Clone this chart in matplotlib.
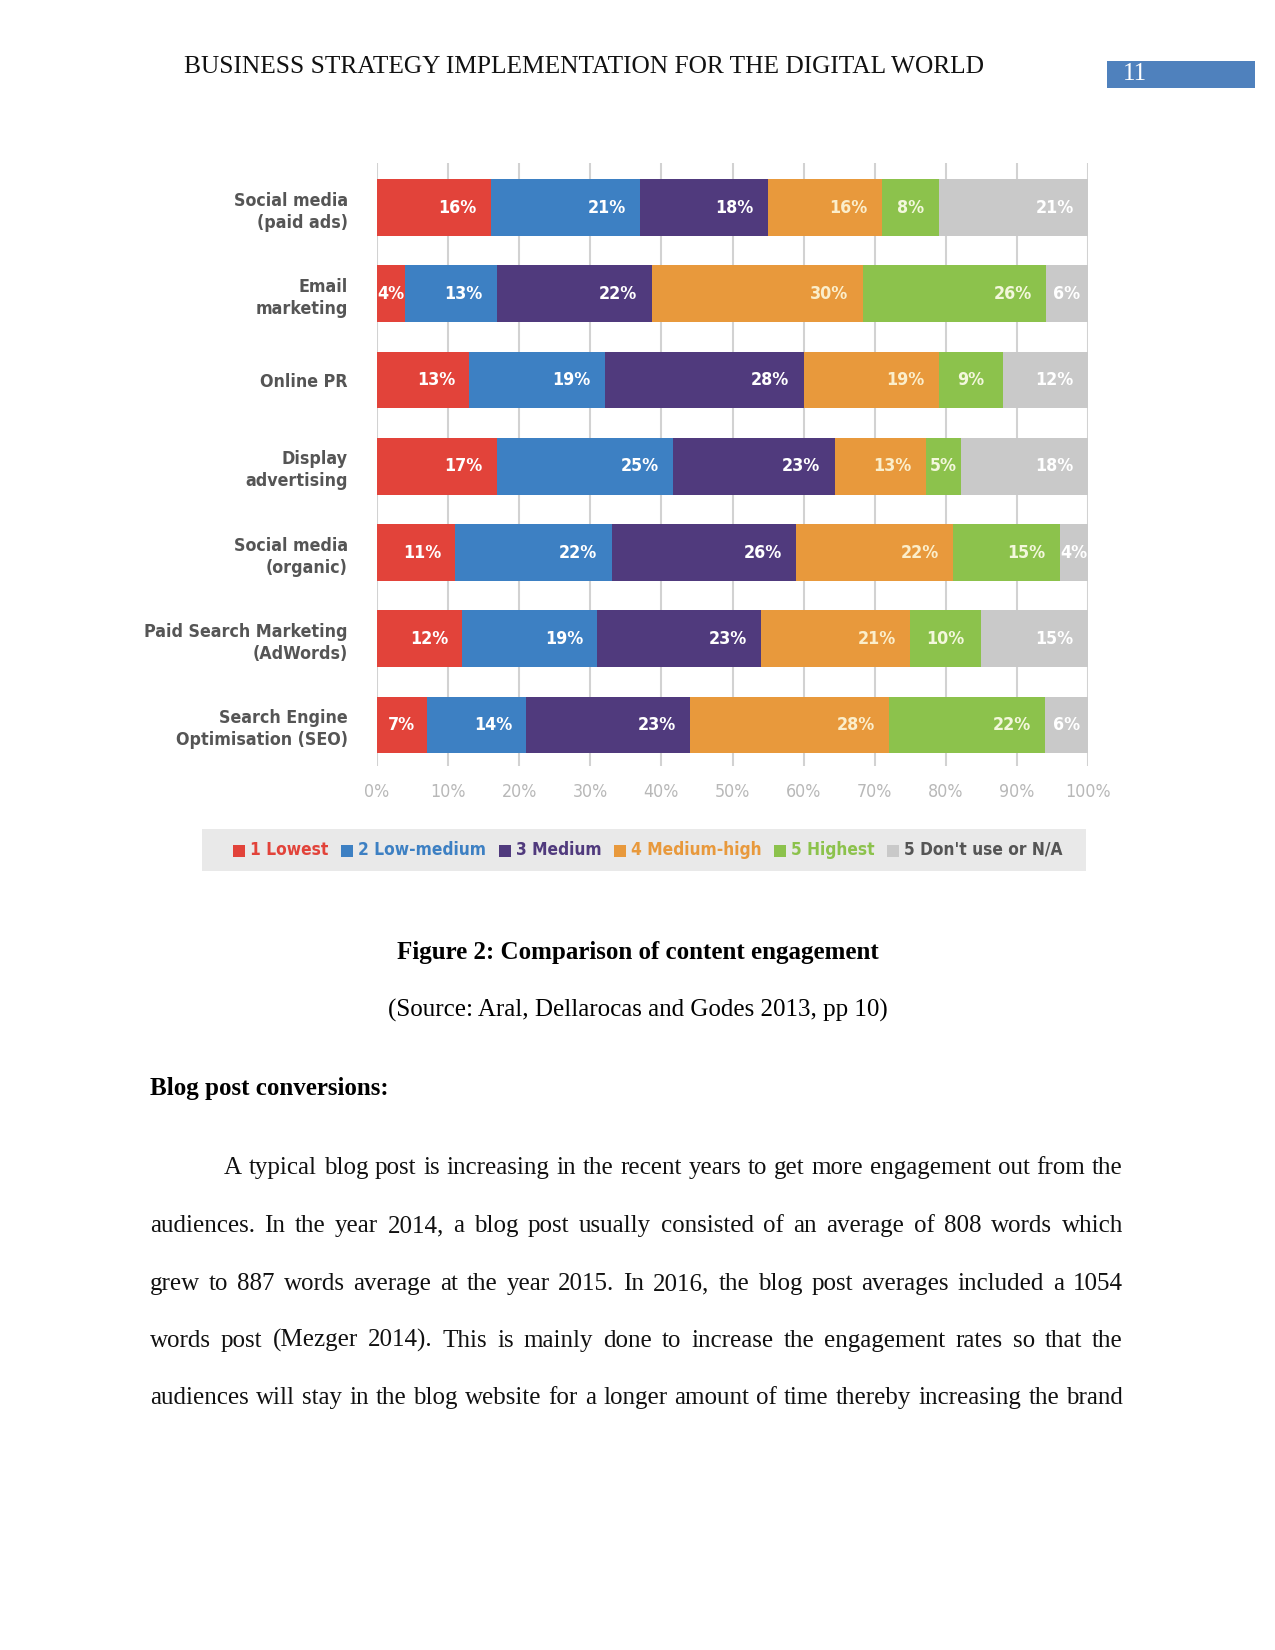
import matplotlib
matplotlib.use("Agg")
import matplotlib.pyplot as plt
import numpy as np
from matplotlib.patches import Rectangle
from matplotlib.font_manager import FontProperties, fontManager

# chart data
categories = ["Social media\n(paid ads)", "Email\nmarketing", "Online PR",
              "Display\nadvertising", "Social media\n(organic)",
              "Paid Search Marketing\n(AdWords)", "Search Engine\nOptimisation (SEO)"]
series = ["1 Lowest", "2 Low-medium", "3 Medium", "4 Medium-high",
          "5 Highest", "5 Don't use or N/A"]
lowest = [16, 4, 13, 17, 11, 12, 7]
low_medium = [21, 13, 19, 25, 22, 19, 14]
medium = [18, 22, 28, 23, 26, 23, 23]
medium_high = [16, 30, 19, 13, 22, 21, 28]
highest = [8, 26, 9, 5, 15, 10, 22]
dont_use = [21, 6, 12, 18, 4, 15, 6]
ticks = [0, 10, 20, 30, 40, 50, 60, 70, 80, 90, 100]

colors = ["#e2433a", "#3d80c3", "#503a7d", "#e8993c", "#8cc24c", "#c9c9c9"]
label_colors = ["white", "white", "white", "#fbeecb", "#f3f7dc", "white"]
legend_text_colors = ["#e2433a", "#3d80c3", "#503a7d", "#e8993c", "#8cc24c", "#555555"]

# pick a narrow sans if one is there
names = {f.name for f in fontManager.ttflist}
if "Liberation Sans Narrow" in names:
    NARROW = dict(family=["Liberation Sans Narrow", "DejaVu Sans"])
else:
    NARROW = dict(family=["DejaVu Sans"], stretch="condensed")
SERIF = ["Liberation Serif", "DejaVu Serif"]

W, H = 1275, 1650
fig = plt.figure(figsize=(8.5, 11), dpi=150)
fig.patch.set_facecolor("white")
renderer = fig.canvas.get_renderer()


def fx(px):
    return px / W


def fy(py):
    return 1 - py / H


# ---- chart ----
ax = fig.add_axes([fx(377), fy(766), fx(1088) - fx(377), (766 - 163) / H])
data = np.array([lowest, low_medium, medium, medium_high, highest, dont_use], dtype=float)
totals = data.sum(axis=0)
pct = data / totals * 100
y = np.arange(len(categories))
left = np.zeros(len(categories))
for i, name in enumerate(series):
    ax.barh(y, pct[i], left=left, height=0.66, color=colors[i],
            edgecolor="none", zorder=2, label=name)
    for j in range(len(categories)):
        v = data[i, j]
        end = left[j] + pct[i, j]
        if v <= 10:
            ax.text(left[j] + pct[i, j] / 2, y[j], f"{int(v)}%", ha="center", va="center",
                    color=label_colors[i], fontsize=8.5, fontweight="bold", zorder=3, **NARROW)
        else:
            ax.text(end - 2.0, y[j], f"{int(v)}%", ha="right", va="center",
                    color=label_colors[i], fontsize=8.5, fontweight="bold", zorder=3, **NARROW)
    left += pct[i]

ax.set_xlim(0, 100)
ax.set_ylim(6.475, -0.516)
ax.set_xticks(ticks)
ax.set_xticklabels([f"{t}%" for t in ticks], color="#b8b8b8", fontsize=8.5, **NARROW)
ax.set_yticks(y)
ax.set_yticklabels(categories, color="#555555", fontsize=8.5, fontweight="bold",
                   linespacing=1.3, **NARROW)
ax.tick_params(axis="both", length=0)
ax.tick_params(axis="x", pad=8)
ax.tick_params(axis="y", pad=14)
for s in ax.spines.values():
    s.set_visible(False)
ax.grid(axis="x", color="#d2d2d2", lw=1.0, zorder=0)
ax.set_axisbelow(True)

# ---- legend strip, laid out by hand ----
fig.patches.append(Rectangle((fx(202), fy(871)), fx(1086) - fx(202), (871 - 829) / H,
                             transform=fig.transFigure, facecolor="#e9e9e9",
                             edgecolor="none", zorder=0))
lprop = FontProperties(size=8.3, weight="bold", **NARROW)
sq = 12
tw = [renderer.get_text_width_height_descent(s, lprop, ismath=False)[0] for s in series]
x_start, x_end = 233, 1063
item_w = [sq + 5 + w for w in tw]
gap = (x_end - x_start - sum(item_w)) / (len(series) - 1)
x = x_start
for i, s in enumerate(series):
    fig.patches.append(Rectangle((fx(x), fy(857)), fx(sq), sq / H,
                                 transform=fig.transFigure, facecolor=colors[i],
                                 edgecolor="none"))
    fig.text(fx(x + sq + 5), fy(850), s, ha="left", va="center", color=legend_text_colors[i],
             fontproperties=lprop)
    x += item_w[i] + gap

# ---- page header ----
fig.text(fx(184), fy(67), "BUSINESS STRATEGY IMPLEMENTATION FOR THE DIGITAL WORLD",
         ha="left", va="center", fontsize=12.2, family=SERIF, color="#111111")
fig.patches.append(Rectangle((fx(1107), fy(88)), fx(1255) - fx(1107), (88 - 61) / H,
                             transform=fig.transFigure, facecolor="#4f81bd",
                             edgecolor="none"))
fig.text(fx(1123), fy(74), "11", ha="left", va="center", fontsize=12,
         family=SERIF, color="white")

# ---- caption ----
fig.text(0.5, fy(952), "Figure 2: Comparison of content engagement", ha="center",
         va="center", fontsize=12, fontweight="bold", family=SERIF)
fig.text(0.5, fy(1010), "(Source: Aral, Dellarocas and Godes 2013, pp 10)", ha="center",
         va="center", fontsize=12, family=SERIF)
fig.text(fx(150), fy(1088), "Blog post conversions:", ha="left", va="center",
         fontsize=12, fontweight="bold", family=SERIF)

# ---- justified body text ----
lines = [
    "A typical blog post is increasing in the recent years to get more engagement out from the",
    "audiences. In the year 2014, a blog post usually consisted of an average of 808 words which",
    "grew to 887 words average at the year 2015. In 2016, the blog post averages included a 1054",
    "words post (Mezger 2014). This is mainly done to increase the engagement rates so that the",
    "audiences will stay in the blog website for a longer amount of time thereby increasing the brand",
]
line_y = [1167, 1225, 1283, 1340, 1397]
prop = FontProperties(family=SERIF, size=12)
right_edge = 1123
for k, (line, yc) in enumerate(zip(lines, line_y)):
    x0 = 224 if k == 0 else 150
    words = line.split()
    widths = [renderer.get_text_width_height_descent(w, prop, ismath=False)[0] for w in words]
    gap = (right_edge - x0 - sum(widths)) / (len(words) - 1)
    x = x0
    for w, wd in zip(words, widths):
        fig.text(fx(x), fy(yc + 7), w, ha="left", va="baseline", fontproperties=prop,
                 color="#111111")
        x += wd + gap

fig.savefig("out.png", dpi=150, facecolor="white")
